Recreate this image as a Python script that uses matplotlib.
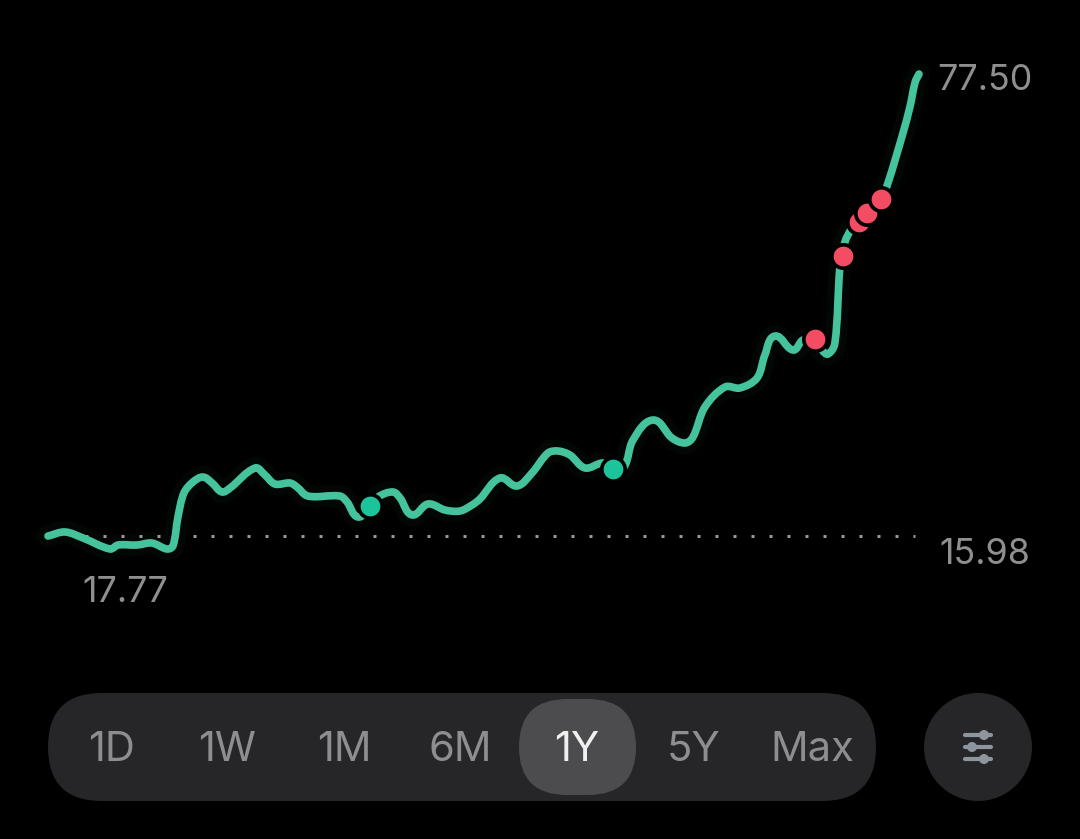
import matplotlib
matplotlib.use("Agg")
import matplotlib.pyplot as plt
import numpy as np
from matplotlib.patches import Circle, FancyBboxPatch, PathPatch
from matplotlib.path import Path

plt.rcParams['font.family'] = ['Inter', 'DejaVu Sans']

# price history
days = [0, 7.1, 14.7, 26.0, 29.3, 37.3, 43.5, 49.8, 52.3, 54.4, 56.9, 60.7, 64.9, 68.7, 72.8, 76.2,
        86.7, 90.8, 95.0, 101.3, 104.2, 108.8, 122.2, 125.2, 129.8, 134.8, 138.1, 144.4, 147.4, 152.4,
        159.1, 166.2, 172.5, 177.5, 180.8, 189.2, 196.3, 202.6, 209.3, 213.5, 218.5, 224.8, 232.3, 236.5,
        241.1, 244.9, 253.3, 261.2, 266.7, 270.0, 275.0, 283.4, 289.7, 296.8, 300.1, 304.3, 311.9, 316.0,
        321.1, 324.0, 326.5, 329.4, 331.5, 332.8, 333.6, 336.6, 339.5, 342.8, 348.7, 351.6, 357.9, 360.8, 363.0, 364.6]
prices = [19.40, 19.91, 19.15, 17.77, 18.27, 18.27, 18.52, 17.77, 18.15, 21.79, 24.81, 26.20, 26.82, 26.07, 24.94, 25.44,
          27.96, 27.08, 25.94, 26.07, 25.57, 24.43, 24.43, 23.68, 21.79, 23.18, 24.31, 24.94, 24.18, 22.05,
          23.43, 22.67, 22.55, 23.30, 24.06, 26.70, 25.69, 27.33, 29.84, 30.09, 29.59, 27.96, 28.58, 27.83,
          28.08, 31.48, 33.99, 31.73, 31.10, 31.85, 35.63, 38.14, 38.02, 39.27, 42.17, 44.55, 42.79, 44.05,
          44.18, 42.79, 42.29, 43.67, 53.23, 54.61, 56.38, 58.14, 58.89, 60.02, 61.78, 63.79, 70.08, 73.35, 76.49, 77.50]

buy_days = [134.8, 236.5]
buy_prices = [23.18, 27.83]
sell_days = [321.1, 332.8, 339.5, 342.8, 348.7]
sell_prices = [44.18, 54.61, 58.89, 60.02, 61.78]

baseline = 19.40
baseline_span = [15.5, 362.9]

ranges = ["1D", "1W", "1M", "6M", "1Y", "5Y", "Max"]
active_range = "1Y"
high_label = "77.50"
low_label = "17.77"
base_label = "15.98"

GREEN = "#45c39c"
GREY = "#8f8f8f"
XLIM = (-20.09, 432.0)
YLIM = (-18.70, 86.81)


def smooth_path(x, y, tension=0.33):
    # bezier through every point; tangents are worked out at screen aspect
    pts = np.column_stack([x, y])
    scale = np.array([1080 / (XLIM[1] - XLIM[0]), 839 / (YLIM[1] - YLIM[0])])
    scr = pts * scale
    tang = np.gradient(scr, axis=0)
    tang[1:-1] = scr[2:] - scr[:-2]
    tang = tang / np.linalg.norm(tang, axis=1, keepdims=True)
    verts = [pts[0]]
    codes = [Path.MOVETO]
    for i in range(len(pts) - 1):
        dist = np.linalg.norm(scr[i + 1] - scr[i])
        c1 = (scr[i] + tension * dist * tang[i]) / scale
        c2 = (scr[i + 1] - tension * dist * tang[i + 1]) / scale
        verts += [c1, c2, pts[i + 1]]
        codes += [Path.CURVE4] * 3
    return Path(verts, codes)


fig = plt.figure(figsize=(10.8, 8.39), dpi=100, facecolor="black")

ax = fig.add_axes([0, 0, 1, 1])
ax.set_xlim(*XLIM)
ax.set_ylim(*YLIM)
ax.axis("off")

ax.plot(baseline_span, [baseline, baseline], color="#9a9a9a", lw=2.16,
        linestyle=(0, (1, 5)), dash_capstyle="butt", zorder=1)

curve = smooth_path(days, prices)
ax.add_patch(PathPatch(curve, fc="none", ec=GREEN, lw=16, alpha=0.03, capstyle="round", zorder=2))
ax.add_patch(PathPatch(curve, fc="none", ec=GREEN, lw=5.5, capstyle="round", joinstyle="round", zorder=3))

z = 4
for d, p, c in list(zip(buy_days, buy_prices, ["#1cc49b"] * 2)) + list(zip(sell_days, sell_prices, ["#f34c63"] * 5)):
    ax.plot([d], [p], "o", ms=19.5, color="black", mew=0, zorder=z)
    ax.plot([d], [p], "o", ms=14.2, color=c, mew=0, zorder=z + 1)
    z += 2

# controls and labels, placed in pixels
ui = fig.add_axes([0, 0, 1, 1])
ui.set_xlim(0, 1080)
ui.set_ylim(839, 0)
ui.axis("off")
ui.patch.set_alpha(0)

ui.text(985, 80, high_label, color=GREY, fontsize=25.8, ha="center", va="center")
ui.text(985, 554, base_label, color=GREY, fontsize=25.8, ha="center", va="center")
ui.text(125, 593, low_label, color=GREY, fontsize=25.8, ha="center", va="center")

ui.add_patch(FancyBboxPatch((48, 693), 828, 108, boxstyle="round,pad=0,rounding_size=54",
                            fc="#262628", ec="none"))
ui.add_patch(FancyBboxPatch((519, 699), 117, 96, boxstyle="round,pad=0,rounding_size=48",
                            fc="#4c4c4e", ec="none"))

range_x = [111, 227, 344, 460, 577, 694, 812]
for label, x in zip(ranges, range_x):
    ui.text(x, 750, label, fontsize=30, ha="center", va="center",
            color="#f0f0f0" if label == active_range else "#8e8e90")

ui.add_patch(Circle((978, 747), 54, fc="#262628", ec="none"))
for y, knob in zip([735, 747, 759], [984, 972, 984]):
    ui.plot([965, 991], [y, y], color="#8d959e", lw=3, solid_capstyle="round")
    ui.add_patch(Circle((knob, y), 5, fc="#8d959e", ec="none"))

fig.savefig("out.png", dpi=100, facecolor="black")
